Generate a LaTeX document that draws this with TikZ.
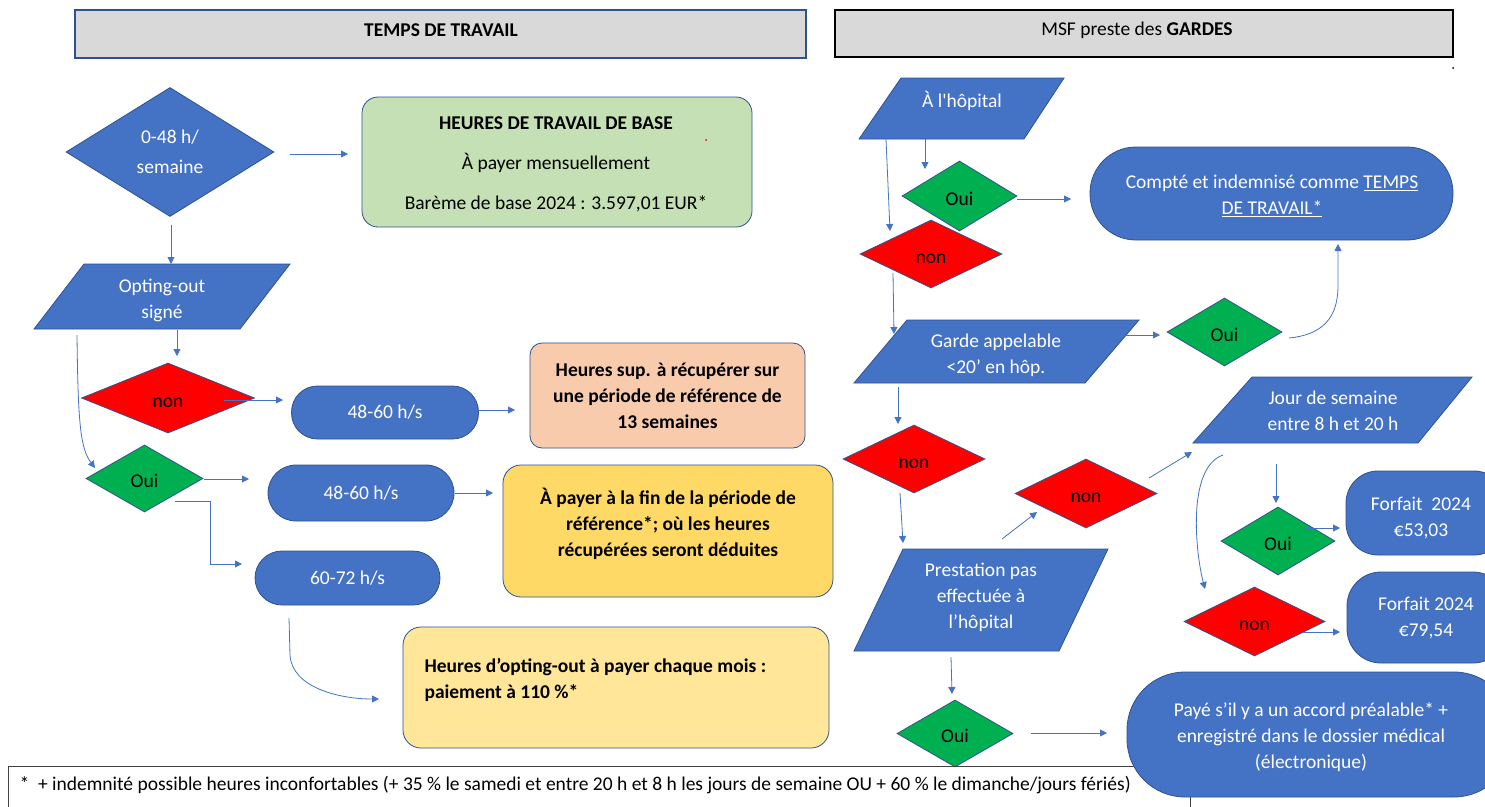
\documentclass[tikz,border=0pt]{standalone}
\usepackage{fontspec}
\setmainfont{Carlito}[Ligatures=TeXOff]
\usetikzlibrary{shapes.geometric,arrows.meta}
\definecolor{mblue}{HTML}{4472C4}
\definecolor{bdr}{HTML}{2F528F}
\definecolor{mred}{HTML}{FF0000}
\definecolor{mgreen}{HTML}{00B050}
\definecolor{hgray}{HTML}{D9D9D9}
\definecolor{bgreen}{HTML}{C5E0B4}
\definecolor{bpeach}{HTML}{F8CBAD}
\definecolor{byellow}{HTML}{FFD966}
\definecolor{blyellow}{HTML}{FFE699}
\definecolor{fgray}{HTML}{404040}
\newcommand{\dlow}[1]{\raisebox{-9pt}[0pt][0pt]{#1}}
\tikzset{
  txt/.style={font=\fontsize{19.5}{26}\selectfont, align=center},
  dia/.style={diamond, draw=bdr, line width=0.8pt, inner sep=0pt, txt},
  bluedia/.style={dia, fill=mblue, text=white},
  reddia/.style={dia, fill=mred, text=black},
  greendia/.style={dia, fill=mgreen, text=black},
  pill/.style={rectangle, draw=bdr, line width=0.8pt, fill=mblue, text=white, inner sep=0pt, txt},
  box/.style={rectangle, draw=bdr, line width=0.8pt, inner sep=0pt, txt},
  para/.style={draw=bdr, line width=0.8pt, fill=mblue},
  ptext/.style={txt, text=white},
  header/.style={rectangle, fill=hgray, line width=1.5pt, inner sep=0pt, txt},
  arr/.style={draw=mblue, line width=0.8pt, -{Triangle[width=7pt,length=7pt]}},
  lnk/.style={draw=mblue, line width=0.8pt}
}
\begin{document}
\begin{tikzpicture}[x=1pt,y=-1pt]
\useasboundingbox (0,0) rectangle (1485,806);
\clip (0,0) rectangle (1485,806);
\fill[white] (0,0) rectangle (1485,806);

% headers
\node[header, draw=bdr, minimum width=731pt, minimum height=48pt] (hL) at (440.5,34) {};
\node[txt, font=\fontsize{19.5}{26}\selectfont\bfseries] (hLt) at (441,30) {TEMPS DE TRAVAIL};
\node[header, draw=black, minimum width=618pt, minimum height=47pt] (hR) at (1144,33.5) {};
\node[txt] (hRt) at (1137,30) {MSF preste des \textbf{GARDES}};
\fill[black] (1453,68) circle (1pt);

% ---------- left part ----------
\node[bluedia, minimum width=208pt, minimum height=129pt] (d048) at (170,152) {0-48 h/\\[4pt]semaine};
\node[box, fill=bgreen, rounded corners=16pt, minimum width=390pt, minimum height=130pt] (base) at (557,162) {};
\node[txt] (baset) at (556,164)
  {\textbf{HEURES DE TRAVAIL DE BASE}\\[14pt]À payer mensuellement\\[14pt]Barème de base 2024 : 3.597,01 EUR*};
\fill[mred] (706,140) circle (1pt);

\filldraw[para] (84,264) -- (290,264) -- (240,329) -- (34,329) -- cycle;
\node[ptext] (opt) at (162,300) {Opting-out\\signé};

\node[reddia, minimum width=173pt, minimum height=70pt] (non0) at (168,398) {\dlow{non}};
\node[pill, rounded corners=26pt, minimum width=187pt, minimum height=53pt] (p1) at (385,412.5) {48-60 h/s};
\node[box, fill=bpeach, rounded corners=12pt, minimum width=275pt, minimum height=105pt] (peach) at (667.5,395.5)
  {\textbf{Heures sup. à récupérer sur}\\\textbf{une période de référence de}\\\textbf{13 semaines}};

\node[greendia, minimum width=117pt, minimum height=67pt] (oui0) at (144.5,478.5) {\dlow{Oui}};
\node[pill, rounded corners=28pt, minimum width=186pt, minimum height=56pt] (p2) at (361,493) {48-60 h/s};
\node[box, fill=byellow, rounded corners=18pt, minimum width=330pt, minimum height=132pt] (yel) at (668,531) {};
\node[txt, font=\fontsize{19.5}{26}\selectfont\bfseries] (yelt) at (668,524)
  {À payer à la fin de la période de\\référence*; où les heures\\récupérées seront déduites};
\node[pill, rounded corners=27pt, minimum width=185pt, minimum height=54pt] (p3) at (347.5,578) {60-72 h/s};
\node[box, fill=blyellow, rounded corners=18pt, minimum width=426pt, minimum height=121pt] (lyel) at (616,687.5) {};
\node[txt, align=left, anchor=west, font=\fontsize{19.5}{26}\selectfont\bfseries] (lyelt) at (421,680)
  {Heures d’opting-out à payer chaque mois :\\paiement à 110 \%*};

% left connectors
\coordinate (a1s) at (290,154); \coordinate (a1e) at (348,154);
\draw[arr] (a1s) -- (a1e);
\coordinate (a2s) at (171,225); \coordinate (a2e) at (171,264);
\draw[arr] (a2s) -- (a2e);
\coordinate (a3s) at (177,330); \coordinate (a3e) at (177,356);
\draw[arr] (a3s) -- (a3e);
\coordinate (a4s) at (77,335); \coordinate (a4e) at (95,468);
\draw[arr] (a4s) .. controls (78,420) and (80,448) .. (a4e);
\coordinate (a5s) at (224,400); \coordinate (a5e) at (283,400);
\draw[arr] (a5s) -- (a5e);
\coordinate (a6s) at (478,410); \coordinate (a6e) at (515,410);
\draw[arr] (a6s) -- (a6e);
\coordinate (a7s) at (204,479); \coordinate (a7e) at (249,479);
\draw[arr] (a7s) -- (a7e);
\coordinate (a8s) at (175,501); \coordinate (a8e) at (242,564);
\draw[arr] (a8s) -- (210,501) -- (210,564) -- (a8e);
\coordinate (a9s) at (455,493); \coordinate (a9e) at (493,493);
\draw[arr] (a9s) -- (a9e);
\coordinate (a10s) at (289,618); \coordinate (a10e) at (379,699);
\draw[arr] (a10s) -- (290,655) .. controls (292,688) and (340,699) .. (a10e);

% ---------- right part ----------
\filldraw[para] (901,78) -- (1064,78) -- (1024,139) -- (859,139) -- cycle;
\node[ptext] (hop) at (962,101) {À l'hôpital};
\node[greendia, minimum width=115pt, minimum height=70pt] (oui1) at (959.5,196) {\dlow{Oui}};
\node[pill, rounded corners=46pt, minimum width=363pt, minimum height=93pt] (cpt) at (1271.5,193.5) {};
\node[ptext] (cptt) at (1272,196) {Compté et indemnisé comme \underline{TEMPS}\\\underline{DE TRAVAIL*}};
\node[reddia, minimum width=142pt, minimum height=68pt] (non1) at (931,254) {\dlow{non}};

\filldraw[para] (907,320) -- (1139,320) -- (1085,383) -- (854,383) -- cycle;
\node[ptext] (garde) at (996,355) {Garde appelable\\<20’ en hôp.};
\node[greendia, minimum width=115pt, minimum height=68pt] (oui2) at (1224.5,332) {\dlow{Oui}};
\node[reddia, minimum width=142pt, minimum height=68pt] (non2) at (914,459) {\dlow{non}};
\node[reddia, minimum width=142pt, minimum height=69pt] (non3) at (1086,493.5) {\dlow{non}};

\filldraw[para] (1252,377) -- (1472,377) -- (1418,443) -- (1193,443) -- cycle;
\node[ptext] (jour) at (1333,411) {Jour de semaine\\entre 8 h et 20 h};
\node[greendia, minimum width=114pt, minimum height=68pt] (oui3) at (1278,541) {\dlow{Oui}};
\node[pill, rounded corners=32pt, minimum width=160pt, minimum height=84pt] (f1) at (1426,513) {};
\node[ptext] (f1t) at (1421,518) {Forfait\ \ 2024\\€53,03};
\node[reddia, minimum width=141pt, minimum height=69pt] (non4) at (1254.5,621.5) {\dlow{non}};
\node[pill, rounded corners=34pt, minimum width=160pt, minimum height=91pt] (f2) at (1427,617.5) {};
\node[ptext] (f2t) at (1426,618) {Forfait 2024\\€79,54};

\filldraw[para] (903,549) -- (1108,549) -- (1059,651) -- (854,651) -- cycle;
\node[ptext] (prest) at (981,597) {Prestation pas\\effectuée à\\l’hôpital};
\node[greendia, minimum width=116pt, minimum height=67pt] (oui4) at (955,733.5) {\dlow{Oui}};

% footer
\draw[fgray, line width=1pt] (8,820) -- (8,766) -- (1190,766) -- (1190,820);
\node[txt, anchor=west] (foot) at (16,785) {*\ \ + indemnité possible heures inconfortables (+ 35 \% le samedi et entre 20 h et 8 h les jours de semaine OU + 60 \% le dimanche/jours fériés)};

\node[pill, rounded corners=58pt, minimum width=385pt, minimum height=125pt] (paye) at (1319.5,734.5) {};
\node[ptext] (payet) at (1311,737) {Payé s’il y a un accord préalable* +\\enregistré dans le dossier médical\\(électronique)};

% right connectors
\coordinate (b1s) at (925,139); \coordinate (b1e) at (925,169);
\draw[arr] (b1s) -- (b1e);
\coordinate (b2s) at (886,139); \coordinate (b2e) at (890,231);
\draw[arr] (b2s) -- (b2e);
\coordinate (b3s) at (1017,199); \coordinate (b3e) at (1071,199);
\draw[arr] (b3s) -- (b3e);
\coordinate (b4s) at (893,273); \coordinate (b4e) at (894,334);
\draw[arr] (b4s) -- (b4e);
\coordinate (b5s) at (1125,335); \coordinate (b5e) at (1160,335);
\draw[arr] (b5s) -- (b5e);
\coordinate (b6s) at (1289,338); \coordinate (b6e) at (1338,244);
\draw[arr] (b6s) .. controls (1330,334) and (1338,310) .. (1338,285) -- (b6e);
\coordinate (b7s) at (898,387); \coordinate (b7e) at (898,424);
\draw[arr] (b7s) -- (b7e);
\coordinate (b8s) at (900,493); \coordinate (b8e) at (903,543);
\draw[arr] (b8s) -- (b8e);
\coordinate (b9s) at (1002,539); \coordinate (b9e) at (1037,512);
\draw[arr] (b9s) -- (b9e);
\coordinate (b10s) at (1149,478); \coordinate (b10e) at (1192,452);
\draw[arr] (b10s) -- (b10e);
\coordinate (b11s) at (1223,455); \coordinate (b11e) at (1205,589);
\draw[arr] (b11s) .. controls (1186,468) and (1196,555) .. (b11e);
\coordinate (b12s) at (1276,464); \coordinate (b12e) at (1276,503);
\draw[arr] (b12s) -- (b12e);
\coordinate (b13s) at (1305,528); \coordinate (b13e) at (1340,528);
\draw[arr] (b13s) -- (b13e);
\coordinate (b14s) at (1303,632); \coordinate (b14e) at (1340,632);
\draw[arr] (b14s) -- (b14e);
\coordinate (b15s) at (951,657); \coordinate (b15e) at (952,694);
\draw[arr] (b15s) -- (b15e);
\coordinate (b16s) at (1031,733); \coordinate (b16e) at (1107,733);
\draw[arr] (b16s) -- (b16e);
\end{tikzpicture}
\end{document}
